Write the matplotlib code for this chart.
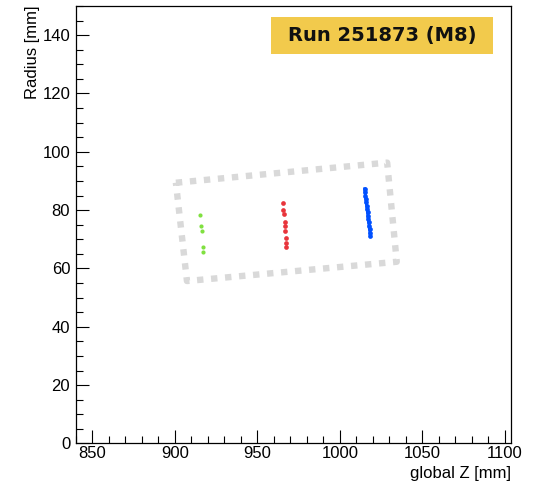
import matplotlib
matplotlib.use("Agg")
import matplotlib.pyplot as plt
from matplotlib.patches import Rectangle
from matplotlib.ticker import MultipleLocator

# Chamber outline (global Z, radius) corners in mm
box_z = [900.7, 1028.7, 1034.5, 907.4, 900.7]
box_r = [89.4, 96.3, 62.3, 55.7, 89.4]

# Hits per layer
green_z = [915.2, 915.8, 916.3, 916.9, 917.2]
green_r = [78.4, 74.7, 73.0, 67.5, 65.7]

red_z = [965.3, 965.7, 965.9, 966.5, 966.7, 966.7, 967.3, 967.5, 967.7]
red_r = [82.4, 79.9, 78.8, 75.8, 74.4, 73.0, 70.6, 68.9, 67.5]

blue_z = [1015.1, 1015.3, 1015.5, 1015.8, 1016.0, 1016.3, 1016.6, 1016.8,
          1017.0, 1017.3, 1017.5, 1017.8, 1018.0, 1018.3, 1018.6]
blue_r = [87.3, 86.2, 85.0, 83.9, 82.7, 81.5, 80.4, 79.3,
          78.1, 77.0, 75.8, 74.6, 73.5, 72.3, 71.0]

run_label = "Run 251873 (M8)"

plt.rcParams['font.family'] = ['Liberation Sans', 'DejaVu Sans']

fig = plt.figure(figsize=(5.35, 4.83), dpi=100)
ax = fig.add_axes([0.1415, 0.0818, 0.8145, 0.9058])

ax.plot(box_z, box_r, color='#d9d9d9', lw=4.6, dashes=(1.0, 1.2),
        solid_capstyle='butt', dash_capstyle='butt', zorder=1)
ax.plot(green_z, green_r, 'o', color='#80e040', ms=3.0, mew=0, zorder=3)
ax.plot(red_z, red_r, 'o', color='#e8353c', ms=3.4, mew=0, zorder=3)
ax.plot(blue_z, blue_r, 'o', color='#0050ff', ms=3.4, mew=0, zorder=3)
ax.plot(blue_z, blue_r, '-', color='#0050ff', lw=2.2, zorder=3)

ax.set_xlim(840, 1104)
ax.set_ylim(0, 150)

ax.xaxis.set_major_locator(MultipleLocator(50))
ax.xaxis.set_minor_locator(MultipleLocator(10))
ax.yaxis.set_major_locator(MultipleLocator(20))
ax.yaxis.set_minor_locator(MultipleLocator(5))

ax.tick_params(which='both', direction='in', top=False, right=False,
               labelsize=12, width=0.8, color='black')
ax.tick_params(which='major', length=9.4)
ax.tick_params(which='minor', length=4.8)
ax.tick_params(axis='x', pad=2)
ax.tick_params(axis='y', pad=4)

for s in ax.spines.values():
    s.set_linewidth(0.9)

ax.set_xlabel('global Z [mm]', fontsize=12, loc='right')
ax.xaxis.set_label_coords(1.0, -0.051, transform=ax.transAxes)
ax.set_ylabel('Radius [mm]', fontsize=12, loc='top')
ax.yaxis.set_label_coords(-0.083, 1.0, transform=ax.transAxes)

# Run tag
fig.add_artist(Rectangle((271 / 535, 1 - 54 / 483), 222 / 535, 37 / 483,
                         transform=fig.transFigure, facecolor='#f2ca4c',
                         edgecolor='none', zorder=5))
fig.text(382 / 535, 1 - 35.5 / 483, run_label, fontsize=14,
         fontweight='bold', family='DejaVu Sans', ha='center', va='center',
         color='#111111', zorder=6)

fig.savefig('out.png', dpi=100, facecolor='white')
